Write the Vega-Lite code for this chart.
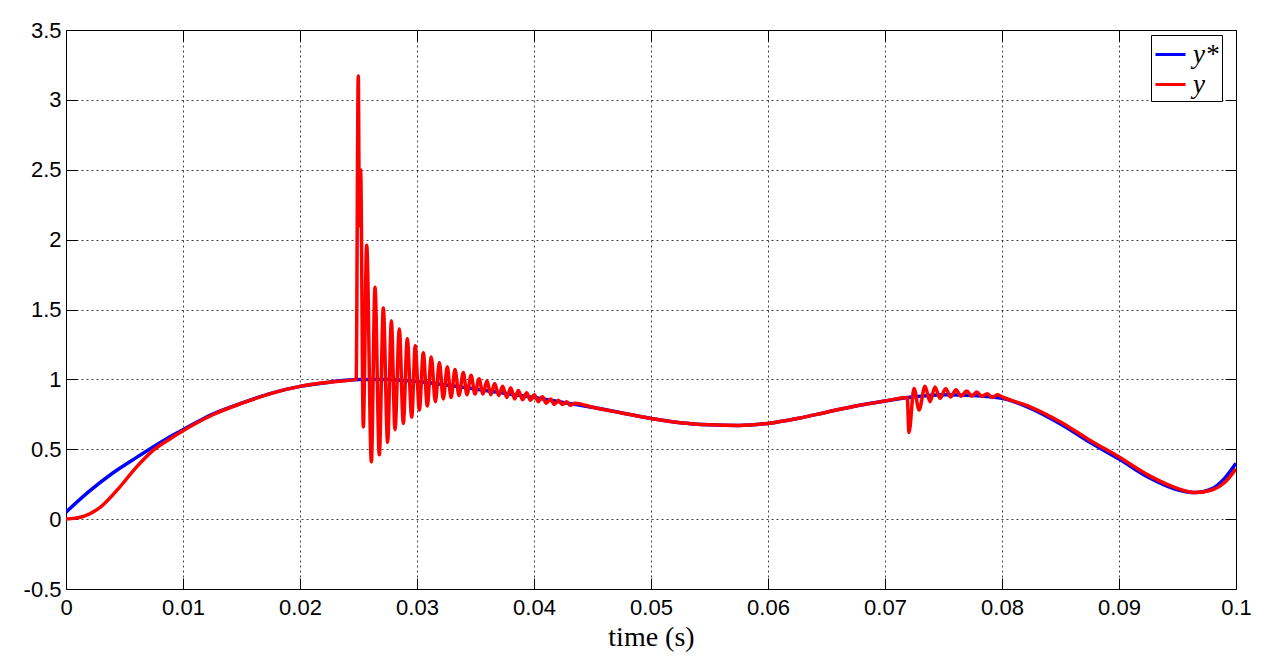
{
  "$schema": "https://vega.github.io/schema/vega-lite/v6.json",
  "autosize": {"type": "none"},
  "width": 1170,
  "height": 559,
  "padding": {"left": 66, "top": 30, "right": 35, "bottom": 68},
  "background": "white",
  "config": {
    "view": {"stroke": "#000", "strokeWidth": 1},
    "axis": {
      "labelFont": "Liberation Sans", "labelFontSize": 22, "labelColor": "#000", "labelFlush": false,
      "domainColor": "#000", "tickColor": "#000", "tickSize": -11,
      "gridColor": "#000", "gridDash": [2, 3], "gridOpacity": 0.75, "gridWidth": 1
    }
  },
  "datasets": {
    "blue": [
      {"t": 0, "v": 0.05}, {"t": 0.002, "v": 0.2}, {"t": 0.004, "v": 0.33}, {"t": 0.006, "v": 0.44},
      {"t": 0.008, "v": 0.545}, {"t": 0.009, "v": 0.595}, {"t": 0.01, "v": 0.64}, {"t": 0.0125, "v": 0.75}, {"t": 0.015, "v": 0.83},
      {"t": 0.0175, "v": 0.9}, {"t": 0.02, "v": 0.95}, {"t": 0.0225, "v": 0.98}, {"t": 0.025, "v": 1.0},
      {"t": 0.0275, "v": 1.0}, {"t": 0.03, "v": 0.985}, {"t": 0.0325, "v": 0.96}, {"t": 0.035, "v": 0.93},
      {"t": 0.0375, "v": 0.9}, {"t": 0.04, "v": 0.87}, {"t": 0.0425, "v": 0.835}, {"t": 0.045, "v": 0.8},
      {"t": 0.0475, "v": 0.76}, {"t": 0.05, "v": 0.72}, {"t": 0.0525, "v": 0.69}, {"t": 0.055, "v": 0.675},
      {"t": 0.0575, "v": 0.67}, {"t": 0.06, "v": 0.685}, {"t": 0.0625, "v": 0.72}, {"t": 0.065, "v": 0.765},
      {"t": 0.0675, "v": 0.81}, {"t": 0.07, "v": 0.845}, {"t": 0.0725, "v": 0.875}, {"t": 0.075, "v": 0.89},
      {"t": 0.0775, "v": 0.885}, {"t": 0.08, "v": 0.865}, {"t": 0.0825, "v": 0.79}, {"t": 0.085, "v": 0.68},
      {"t": 0.0875, "v": 0.55}, {"t": 0.09, "v": 0.43}, {"t": 0.0925, "v": 0.3}, {"t": 0.095, "v": 0.21},
      {"t": 0.0965, "v": 0.19}, {"t": 0.098, "v": 0.22}, {"t": 0.099, "v": 0.29}, {"t": 0.1, "v": 0.4}
    ],
    "red": [
      {"t": 0, "v": 0.0}, {"t": 0.0015, "v": 0.02}, {"t": 0.003, "v": 0.09}, {"t": 0.0045, "v": 0.22},
      {"t": 0.006, "v": 0.37}, {"t": 0.0075, "v": 0.495}, {"t": 0.009, "v": 0.58}, {"t": 0.01, "v": 0.632},
      {"t": 0.0125, "v": 0.745}, {"t": 0.015, "v": 0.828}, {"t": 0.0175, "v": 0.898}, {"t": 0.02, "v": 0.95},
      {"t": 0.0225, "v": 0.98}, {"t": 0.0248, "v": 1.0}, {"t": 0.02498, "v": 3.17}, {"t": 0.02508, "v": 2.1},
      {"t": 0.02518, "v": 2.5}, {"t": 0.02541, "v": 0.66}, {"t": 0.0257, "v": 1.96}, {"t": 0.0261, "v": 0.41},
      {"t": 0.02641, "v": 1.66}, {"t": 0.02678, "v": 0.46}, {"t": 0.02712, "v": 1.51}, {"t": 0.02749, "v": 0.55},
      {"t": 0.02781, "v": 1.42}, {"t": 0.02812, "v": 0.64}, {"t": 0.02849, "v": 1.36}, {"t": 0.02883, "v": 0.685},
      {"t": 0.02917, "v": 1.29}, {"t": 0.02955, "v": 0.73}, {"t": 0.02985, "v": 1.24}, {"t": 0.0302, "v": 0.78},
      {"t": 0.03054, "v": 1.19}, {"t": 0.03088, "v": 0.81}, {"t": 0.03122, "v": 1.16}, {"t": 0.03157, "v": 0.84},
      {"t": 0.03191, "v": 1.12}, {"t": 0.03225, "v": 0.86}, {"t": 0.03259, "v": 1.09}, {"t": 0.03291, "v": 0.87},
      {"t": 0.03325, "v": 1.07}, {"t": 0.03359, "v": 0.885}, {"t": 0.03396, "v": 1.05}, {"t": 0.03427, "v": 0.89},
      {"t": 0.03462, "v": 1.03}, {"t": 0.03496, "v": 0.895}, {"t": 0.0353, "v": 1.005}, {"t": 0.03564, "v": 0.895},
      {"t": 0.03598, "v": 0.99}, {"t": 0.0363, "v": 0.89}, {"t": 0.03664, "v": 0.97}, {"t": 0.03698, "v": 0.885},
      {"t": 0.03732, "v": 0.95}, {"t": 0.03767, "v": 0.87}, {"t": 0.03801, "v": 0.94}, {"t": 0.03835, "v": 0.86},
      {"t": 0.03866, "v": 0.92}, {"t": 0.03903, "v": 0.855}, {"t": 0.03937, "v": 0.905}, {"t": 0.03969, "v": 0.85},
      {"t": 0.04003, "v": 0.89}, {"t": 0.04037, "v": 0.84}, {"t": 0.04071, "v": 0.875}, {"t": 0.04105, "v": 0.83},
      {"t": 0.04142, "v": 0.86}, {"t": 0.04174, "v": 0.82}, {"t": 0.04208, "v": 0.85}, {"t": 0.0424, "v": 0.82},
      {"t": 0.0428, "v": 0.84}, {"t": 0.0431, "v": 0.815}, {"t": 0.0435, "v": 0.83}, {"t": 0.045, "v": 0.8},
      {"t": 0.0475, "v": 0.76}, {"t": 0.05, "v": 0.72}, {"t": 0.0525, "v": 0.69}, {"t": 0.055, "v": 0.675},
      {"t": 0.0575, "v": 0.67}, {"t": 0.06, "v": 0.685}, {"t": 0.0625, "v": 0.72}, {"t": 0.065, "v": 0.765},
      {"t": 0.0675, "v": 0.81}, {"t": 0.07, "v": 0.845}, {"t": 0.0719, "v": 0.87}, {"t": 0.07205, "v": 0.62},
      {"t": 0.07248, "v": 0.935}, {"t": 0.07291, "v": 0.78}, {"t": 0.07342, "v": 0.95}, {"t": 0.07385, "v": 0.84},
      {"t": 0.07427, "v": 0.945}, {"t": 0.0747, "v": 0.865}, {"t": 0.07519, "v": 0.933}, {"t": 0.07562, "v": 0.874},
      {"t": 0.07607, "v": 0.926}, {"t": 0.0765, "v": 0.879}, {"t": 0.07698, "v": 0.917}, {"t": 0.07741, "v": 0.88},
      {"t": 0.07784, "v": 0.91}, {"t": 0.07826, "v": 0.879}, {"t": 0.07874, "v": 0.898}, {"t": 0.07917, "v": 0.87},
      {"t": 0.0796, "v": 0.89}, {"t": 0.08, "v": 0.875}, {"t": 0.0825, "v": 0.8}, {"t": 0.085, "v": 0.695},
      {"t": 0.0875, "v": 0.565}, {"t": 0.09, "v": 0.445}, {"t": 0.0925, "v": 0.315}, {"t": 0.095, "v": 0.22},
      {"t": 0.0965, "v": 0.19}, {"t": 0.098, "v": 0.21}, {"t": 0.099, "v": 0.26}, {"t": 0.1, "v": 0.36}
    ]
  },
  "layer": [
    {
      "layer": [
        {
          "data": {"name": "blue"},
          "transform": [{"calculate": "'y*'", "as": "s"}],
          "mark": {"type": "line", "strokeWidth": 3.5, "interpolate": "monotone", "clip": true},
          "encoding": {
            "x": {"field": "t", "type": "quantitative",
              "scale": {"domain": [0, 0.1], "nice": false, "zero": false},
              "axis": {"values": [0, 0.01, 0.02, 0.03, 0.04, 0.05, 0.06, 0.07, 0.08, 0.09, 0.1],
                "labelExpr": "'' + datum.value", "grid": true, "labelPadding": 19,
                "title": "time (s)", "titleFont": "Liberation Serif", "titleFontSize": 28,
                "titleFontWeight": "normal", "titleColor": "#000", "titlePadding": 5}},
            "y": {"field": "v", "type": "quantitative",
              "scale": {"domain": [-0.5, 3.5], "nice": false, "zero": false},
              "axis": {"values": [-0.5, 0, 0.5, 1, 1.5, 2, 2.5, 3, 3.5],
                "labelExpr": "'' + datum.value", "grid": true, "labelPadding": 16, "title": null}},
            "color": {"field": "s", "type": "nominal",
              "scale": {"domain": ["y*", "y"], "range": ["#0000ff", "#ff0000"]},
              "legend": {"title": null, "orient": "none", "legendX": 1085, "legendY": 5,
                "symbolType": "stroke", "symbolSize": 900, "symbolStrokeWidth": 3,
                "labelFont": "Liberation Serif", "labelFontStyle": "italic", "labelFontSize": 27,
                "labelColor": "#000", "rowPadding": 0, "padding": 3, "labelOffset": 6,
                "strokeColor": "#000", "fillColor": "#fff", "cornerRadius": 0}}
          }
        },
        {
          "data": {"name": "red"},
          "transform": [{"calculate": "'y'", "as": "s"}],
          "mark": {"type": "line", "strokeWidth": 3.5, "interpolate": "monotone", "clip": true},
          "encoding": {
            "x": {"field": "t", "type": "quantitative"},
            "y": {"field": "v", "type": "quantitative"},
            "color": {"field": "s", "type": "nominal"}
          }
        }
      ]
    },
    {
      "data": {"name": "blue"},
      "mark": {"type": "line", "opacity": 0},
      "encoding": {
        "x": {"field": "t", "type": "quantitative",
          "scale": {"domain": [0, 0.1], "nice": false, "zero": false},
          "axis": {"orient": "top", "values": [0, 0.01, 0.02, 0.03, 0.04, 0.05, 0.06, 0.07, 0.08, 0.09, 0.1],
            "labels": false, "grid": false, "title": null}},
        "y": {"field": "v", "type": "quantitative",
          "scale": {"domain": [-0.5, 3.5], "nice": false, "zero": false},
          "axis": {"orient": "right", "values": [-0.5, 0, 0.5, 1, 1.5, 2, 2.5, 3, 3.5],
            "labels": false, "grid": false, "title": null}}
      }
    }
  ],
  "resolve": {"scale": {"x": "independent", "y": "independent"}}
}
